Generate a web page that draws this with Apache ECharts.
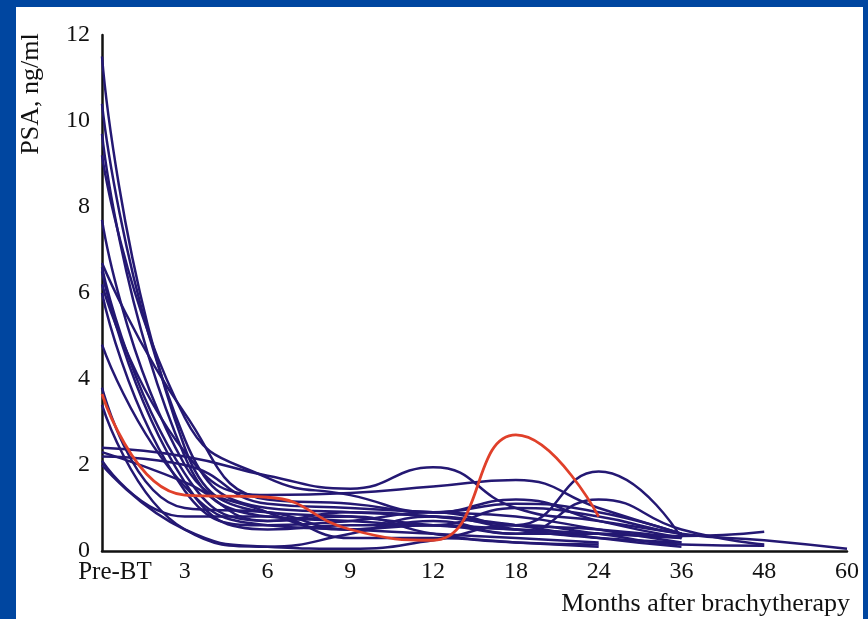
<!DOCTYPE html>
<html>
<head>
<meta charset="utf-8">
<script src="https://cdn.jsdelivr.net/npm/echarts@6/dist/echarts.min.js"></script>
<style>
  html, body { margin: 0; padding: 0; }
  #frame { position: relative; width: 868px; height: 619px; background: #0046a0; overflow: hidden; }
  #chart-container { position: absolute; left: 16px; top: 7px; width: 847px; height: 612px; background: #ffffff; }
</style>
</head>
<body>
<div id="frame"><div id="chart-container"></div></div>
<script>
var months = ['Pre-BT', '3', '6', '9', '12', '18', '24', '36', '48', '60'];
var yTicks = [0, 2, 4, 6, 8, 10, 12];

// PSA per patient (ng/ml), null after last follow-up
var patients = [
	[11.5, 2.4, 0.9, 0.8, 0.6, 0.5, 0.4, 0.3, null, null],
	[10.4, 2.6, 1.0, 0.9, 0.8, 0.6, 0.5, 0.3, null, null],
	[9.7, 2.2, 0.8, 0.7, 0.6, 1.0, 0.8, 0.4, 0.25, 0.05],
	[9.2, 3.1, 1.7, 1.3, 0.9, 1.1, 0.9, 0.4, null, null],
	[7.7, 2.0, 0.9, 0.5, 0.7, 0.4, 0.4, 0.35, 0.45, null],
	[6.7, 3.2, 1.2, 1.1, 0.9, 1.2, 0.7, 0.3, null, null],
	[6.6, 1.8, 0.7, 0.9, 0.8, 0.6, 0.3, 0.1, null, null],
	[6.5, 1.6, 0.5, 0.6, 0.6, 0.5, 0.4, null, null, null],
	[6.2, 2.3, 1.3, 1.35, 1.5, 1.65, 1.0, 0.4, null, null],
	[6.0, 1.4, 0.6, 0.7, 0.9, 0.6, 1.85, 0.3, null, null],
	[4.8, 1.5, 0.6, 0.5, 0.4, 0.3, 0.2, null, null, null],
	[3.8, 1.0, 0.9, 0.5, 0.6, 0.4, 1.2, 0.5, 0.15, null],
	[3.4, 0.5, 0.1, 0.4, 0.8, 0.5, 0.3, 0.2, null, null],
	[2.4, 2.2, 1.75, 1.45, 1.95, 1.0, 0.7, 0.4, null, null],
	[2.3, 1.6, 0.7, 0.8, 0.4, 0.2, 0.15, null, null, null],
	[2.1, 0.8, 0.8, 0.3, 0.3, 0.2, 0.1, null, null, null],
	[2.0, 0.5, 0.1, 0.05, 0.25, 0.6, 0.4, 0.15, 0.12, null],
	[2.2, 2.0, 1.1, 1.0, 0.9, 0.8, 0.5, 0.2, null, null]
];
var relapse = [3.65, 1.3, 1.25, 0.5, 0.25, 2.7, 0.8, null, null, null];

var chartDom = document.getElementById('chart-container');
var myChart = echarts.init(chartDom);
var serif = '"Liberation Serif", "DejaVu Serif", serif';

var series = patients.map(function (p) {
	return {
		type: 'line',
		data: p,
		smooth: 0.5,
		symbol: 'none',
		lineStyle: { color: '#241873', width: 2.5 }
	};
});
series.push({
	type: 'line',
	data: relapse,
	smooth: 0.5,
	symbol: 'none',
	z: 3,
	lineStyle: { color: '#e0402a', width: 2.8 }
});

var option = {
	animation: false,
	grid: { left: 86, right: 16, top: 28, bottom: 68 },
	xAxis: {
		type: 'category',
		data: months,
		boundaryGap: false,
		axisLine: { lineStyle: { color: '#111', width: 2.5 } },
		axisTick: { show: false },
		axisLabel: {
			interval: 0,
			color: '#111',
			fontFamily: serif,
			fontSize: 24,
			margin: 9,
			formatter: function (v, i) { return i === 0 ? '{first|' + v + '}' : v; },
			rich: { first: { fontFamily: serif, fontSize: 25, color: '#111', padding: [0, 0, 0, 26] } }
		}
	},
	yAxis: {
		type: 'value',
		min: yTicks[0],
		max: yTicks[yTicks.length - 1],
		interval: 2,
		axisLine: { show: true, lineStyle: { color: '#111', width: 2.5 } },
		axisTick: { show: false },
		splitLine: { show: false },
		axisLabel: { color: '#111', fontFamily: serif, fontSize: 24, margin: 12 }
	},
	graphic: [
		{
			type: 'text',
			x: 15, y: 87,
			rotation: Math.PI / 2,
			style: { text: 'PSA, ng/ml', fill: '#111', font: '26px ' + serif, align: 'center', verticalAlign: 'middle' }
		},
		{
			type: 'text',
			x: 834, y: 597,
			style: { text: 'Months after brachytherapy', fill: '#111', font: '26px ' + serif, align: 'right', verticalAlign: 'middle' }
		}
	],
	series: series
};

myChart.setOption(option);
</script>
</body>
</html>
